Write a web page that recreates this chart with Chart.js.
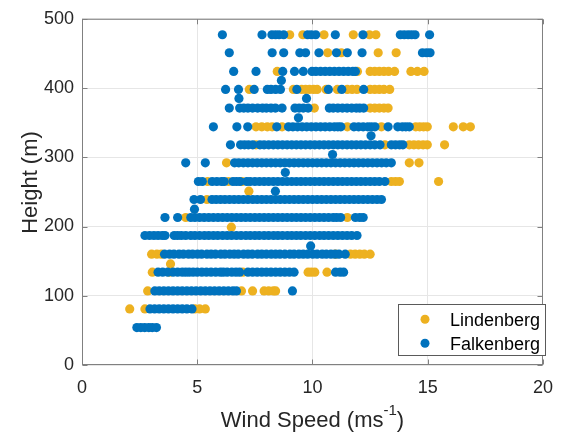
<!DOCTYPE html>
<html>
<head>
<meta charset="utf-8">
<script src="https://cdn.jsdelivr.net/npm/chart.js@4.4.0/dist/chart.umd.min.js"></script>
<style>
  html, body { margin: 0; padding: 0; background: #fff; }
  #wrap { width: 565px; height: 437px; }
</style>
</head>
<body>
<div id="wrap"><canvas id="windChart" width="565" height="437"></canvas></div>
<script>
// measurement levels (m)
const heights = [54, 81, 107, 134, 160, 187, 213, 239, 265, 292, 318, 344, 371, 398, 424, 451, 477];

// wind speeds per level, same order as heights
const lindenbergSpeeds = [
  [],
  [2.07, 2.73, 4.9, 5.1, 5.35],
  [2.85, 6.92, 7.4, 7.9, 8.1, 8.3, 8.4],
  [3.05, 3.8, 6.98, 9.81, 9.95, 10.1, 10.63],
  [3.02, 3.25, 3.44, 11.0, 11.65, 11.85, 12.05, 12.25, 12.5],
  [],
  [4.5, 11.51],
  [5.42],
  [5.45, 6.35, 6.95, 13.42, 13.6, 13.77, 15.47],
  [6.27, 14.2, 14.62],
  [7.55, 13.14, 14.2, 14.4, 14.6, 14.8, 14.98, 15.73],
  [7.55, 7.8, 8.04, 8.25, 8.68, 11.51, 12.99, 14.48, 14.65, 14.82, 14.98, 16.11, 16.54, 16.85],
  [10.08, 12.5, 12.7, 12.9, 13.1, 13.28],
  [7.26, 9.17, 9.53, 9.7, 9.87, 10.05, 10.2, 10.59, 11.08, 11.51, 11.72, 11.93, 12.5, 12.7, 12.9, 13.1, 13.35],
  [8.47, 11.95, 12.5, 12.7, 12.9, 13.1, 13.3, 13.56, 14.27, 14.55, 14.84],
  [10.66, 11.25, 12.85, 13.63],
  [9.01, 9.58, 10.5, 11.77, 12.47, 12.75]
];

const falkenbergSpeeds = [
  [2.38, 2.55, 2.72, 2.9, 3.05, 3.23],
  [2.95, 3.15, 3.35, 3.55, 3.75, 3.95, 4.15, 4.35, 4.55, 4.77],
  [3.16, 3.35, 3.55, 3.75, 3.95, 4.15, 4.35, 4.55, 4.75, 4.95, 5.15, 5.35, 5.55, 5.75, 5.95, 6.15, 6.35, 6.55, 6.7, 9.13],
  [3.3, 3.5, 3.72, 3.95, 4.15, 4.35, 4.5, 4.65, 4.82, 5.0, 5.2, 5.4, 5.6, 5.8, 6.0, 6.13, 6.3, 6.5, 6.68, 6.84, 7.2, 7.4, 7.6, 7.8, 8.0, 8.2, 8.4, 8.6, 8.8, 9.0, 9.2, 11.0, 11.2, 11.35],
  [3.58, 3.8, 3.99, 4.21, 4.4, 4.62, 4.8, 5.01, 5.19, 5.42, 5.6, 5.79, 6.02, 6.2, 6.41, 6.6, 6.78, 7.01, 7.2, 7.39, 7.62, 7.8, 8.0, 8.21, 8.4, 8.59, 8.8, 9.02, 9.2, 9.41, 9.6, 9.79, 10.01, 10.2, 10.42, 10.6, 10.8, 10.98, 11.15, 11.42],
  [2.73, 2.93, 3.12, 3.3, 3.48, 3.6, 4.0, 4.15, 4.31, 4.5, 4.72, 4.9, 5.1, 5.31, 5.5, 5.7, 5.89, 6.1, 6.3, 6.49, 6.7, 6.9, 7.11, 7.3, 7.5, 7.69, 7.9, 8.1, 8.31, 8.5, 8.7, 8.91, 9.1, 9.3, 9.49, 9.7, 9.9, 10.1, 10.31, 10.5, 10.7, 10.9, 11.1, 11.3, 11.5, 11.7, 11.93],
  [3.6, 4.15, 4.72, 4.9, 5.1, 5.3, 5.5, 5.7, 5.9, 6.1, 6.3, 6.5, 6.7, 6.9, 7.1, 7.3, 7.5, 7.7, 7.9, 8.1, 8.3, 8.5, 8.7, 8.9, 9.1, 9.3, 9.5, 9.7, 9.9, 10.1, 10.3, 10.5, 10.7, 10.9, 11.05, 11.22, 11.86, 12.05, 12.2],
  [4.86, 5.14, 5.64, 5.82, 6.01, 6.2, 6.4, 6.6, 6.8, 7.0, 7.2, 7.41, 7.6, 7.8, 8.0, 8.2, 8.4, 8.6, 8.8, 9.0, 9.2, 9.4, 9.6, 9.8, 10.0, 10.2, 10.4, 10.6, 10.8, 11.0, 11.2, 11.4, 11.6, 11.8, 12.0, 12.2, 12.4, 12.6, 12.8, 12.99],
  [5.05, 5.22, 5.65, 5.85, 6.05, 6.17, 6.55, 6.7, 6.85, 7.15, 7.3, 7.5, 7.7, 7.9, 8.1, 8.3, 8.5, 8.7, 8.9, 9.1, 9.3, 9.5, 9.7, 9.9, 10.1, 10.3, 10.5, 10.7, 10.9, 11.1, 11.3, 11.5, 11.7, 11.9, 12.1, 12.3, 12.5, 12.7, 12.9, 13.14],
  [4.5, 5.35, 6.62, 6.8, 7.0, 7.2, 7.4, 7.6, 7.8, 8.0, 8.2, 8.4, 8.6, 8.8, 9.0, 9.2, 9.4, 9.6, 9.8, 10.0, 10.2, 10.4, 10.6, 10.8, 11.0, 11.2, 11.4, 11.6, 11.8, 12.0, 12.2, 12.4, 12.6, 12.8, 13.0, 13.2, 13.42],
  [6.44, 6.88, 7.05, 7.22, 7.41, 7.72, 7.9, 8.1, 8.3, 8.5, 8.7, 8.9, 9.1, 9.3, 9.5, 9.7, 9.9, 10.1, 10.3, 10.5, 10.7, 10.9, 11.1, 11.3, 11.5, 11.7, 11.9, 12.1, 12.3, 12.5, 12.7, 12.93, 13.42, 13.6, 13.78, 13.92],
  [5.7, 6.72, 7.19, 8.45, 8.96, 9.15, 9.35, 9.55, 9.75, 9.95, 10.15, 10.35, 10.55, 10.75, 10.95, 11.1, 11.23, 11.8, 12.0, 12.2, 12.4, 12.55, 12.71, 13.28, 13.7, 13.9, 14.05, 14.2],
  [6.39, 6.84, 7.02, 7.2, 7.4, 7.62, 7.83, 8.0, 8.2, 8.39, 8.68, 9.24, 9.42, 9.6, 9.81, 10.73, 10.9, 11.1, 11.3, 11.5, 11.7, 11.9, 12.05, 12.22],
  [6.23, 6.79, 7.47, 8.04, 8.2, 8.4, 8.61, 9.32, 10.69, 11.27, 12.22],
  [6.58, 7.55, 8.71, 9.22, 9.6, 9.98, 10.15, 10.35, 10.55, 10.75, 10.95, 11.15, 11.35, 11.55, 11.75, 11.86],
  [6.39, 8.25, 8.75, 9.45, 9.7, 10.28, 11.04, 11.51, 12.15, 14.77, 14.95, 15.1],
  [6.09, 7.81, 8.24, 8.4, 8.55, 8.75, 9.79, 9.95, 10.14, 10.99, 12.19, 13.81, 13.98, 14.15, 14.3, 14.45, 15.08]
];

// odd readings that sit between the levels
const lindenbergOffSpeed = [7.24, 6.48, 3.84];
const lindenbergOffHeight = [251, 199, 146];
const falkenbergOffSpeed = [9.39, 12.54, 10.87, 8.82, 8.39, 4.88, 9.92, 6.81, 9.74, 8.65];
const falkenbergOffHeight = [357, 331, 304, 278, 251, 225, 172, 385, 385, 411];

const xTicks = [0, 5, 10, 15, 20];
const yTicks = [0, 100, 200, 300, 400, 500];

const YELLOW = "#EDB120";
const BLUE = "#0072BD";
const FONT = '"Liberation Sans", Arial, Helvetica, sans-serif';

function toPoints(rows, offSpeed, offHeight) {
  const pts = [];
  rows.forEach((row, i) => row.forEach((s) => pts.push({ x: s, y: heights[i] })));
  offSpeed.forEach((s, i) => pts.push({ x: s, y: offHeight[i] }));
  return pts;
}

// box, inward ticks, legend and axis titles, MATLAB style
const frame = {
  id: "frame",
  afterDraw(chart) {
    const { ctx, chartArea: a, scales } = chart;
    const L = a.left + 0.5, R = a.right - 0.5, T = a.top + 0.5, B = a.bottom - 0.5;
    ctx.save();
    ctx.strokeStyle = "#808080";
    ctx.lineWidth = 1;
    ctx.strokeRect(L, T, R - L, B - T);
    ctx.beginPath();
    xTicks.forEach((v) => {
      const px = Math.round(scales.x.getPixelForValue(v)) + 0.5;
      ctx.moveTo(px, B); ctx.lineTo(px, B - 5);
      ctx.moveTo(px, T); ctx.lineTo(px, T + 5);
    });
    yTicks.forEach((v) => {
      const py = Math.round(scales.y.getPixelForValue(v)) + 0.5;
      ctx.moveTo(L, py); ctx.lineTo(L + 5, py);
      ctx.moveTo(R, py); ctx.lineTo(R - 5, py);
    });
    ctx.stroke();

    // legend box
    ctx.fillStyle = "#fff";
    ctx.fillRect(398.5, 304.5, 147, 51);
    ctx.strokeStyle = "#5a5a5a";
    ctx.strokeRect(398.5, 304.5, 147, 51);
    const items = [
      { label: chart.data.datasets[1].label, color: YELLOW, y: 319.3, base: 325.7 },
      { label: chart.data.datasets[0].label, color: BLUE, y: 343.3, base: 349.5 }
    ];
    ctx.font = "18px " + FONT;
    ctx.textAlign = "left";
    ctx.textBaseline = "alphabetic";
    items.forEach((it) => {
      ctx.fillStyle = it.color;
      ctx.beginPath();
      ctx.arc(425, it.y, 4.5, 0, Math.PI * 2);
      ctx.fill();
      ctx.fillStyle = "#000";
      ctx.fillText(it.label, 450, it.base);
    });

    // axis titles
    ctx.fillStyle = "#262626";
    ctx.font = "22px " + FONT;
    const main = "Wind Speed (ms", sup = "-1", tail = ")";
    const wMain = ctx.measureText(main).width;
    const wTail = ctx.measureText(tail).width;
    ctx.font = "15px " + FONT;
    const wSup = ctx.measureText(sup).width;
    let x0 = (a.left + a.right) / 2 - (wMain + wSup + wTail) / 2;
    ctx.font = "22px " + FONT;
    ctx.fillText(main, x0, 426.5);
    ctx.font = "15px " + FONT;
    ctx.fillText(sup, x0 + wMain, 415);
    ctx.font = "22px " + FONT;
    ctx.fillText(tail, x0 + wMain + wSup, 426.5);

    ctx.translate(36.5, 182.5);
    ctx.rotate(-Math.PI / 2);
    ctx.textAlign = "center";
    ctx.fillText("Height (m)", 0, 0);
    ctx.restore();
  }
};

const ctx = document.getElementById("windChart").getContext("2d");

const windChart = new Chart(ctx, {
  type: "scatter",
  data: {
    datasets: [
      {
        label: "Falkenberg",
        data: toPoints(falkenbergSpeeds, falkenbergOffSpeed, falkenbergOffHeight),
        backgroundColor: BLUE,
        borderWidth: 0,
        pointRadius: 4.6,
        pointHoverRadius: 4.6
      },
      {
        label: "Lindenberg",
        data: toPoints(lindenbergSpeeds, lindenbergOffSpeed, lindenbergOffHeight),
        backgroundColor: YELLOW,
        borderWidth: 0,
        pointRadius: 4.6,
        pointHoverRadius: 4.6
      }
    ]
  },
  options: {
    responsive: false,
    animation: false,
    events: [],
    layout: { padding: { top: 12, right: 11, left: 0, bottom: 0 } },
    plugins: {
      legend: { display: false },
      tooltip: { enabled: false }
    },
    scales: {
      x: {
        type: "linear",
        min: 0,
        max: 20,
        afterFit: (scale) => { scale.height = 72; },
        afterBuildTicks: (scale) => { scale.ticks = xTicks.map((v) => ({ value: v })); },
        grid: { color: "#e6e6e6", drawTicks: false },
        border: { display: false },
        ticks: { color: "#262626", font: { family: FONT, size: 18 }, padding: 12 }
      },
      y: {
        type: "linear",
        min: 0,
        max: 500,
        afterFit: (scale) => { scale.width = 82; },
        afterBuildTicks: (scale) => { scale.ticks = yTicks.map((v) => ({ value: v })); },
        grid: { color: "#e6e6e6", drawTicks: false },
        border: { display: false },
        ticks: { color: "#262626", font: { family: FONT, size: 18 }, padding: 8 }
      }
    }
  },
  plugins: [frame]
});
</script>
</body>
</html>
